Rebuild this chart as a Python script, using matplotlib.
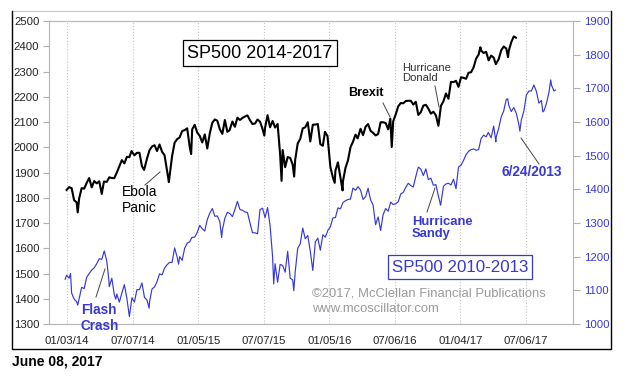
import numpy as np
import pandas as pd
import matplotlib
matplotlib.use("Agg")
import matplotlib.pyplot as plt
import matplotlib.dates as mdates
from matplotlib.lines import Line2D

plt.rcParams['font.family'] = ['Liberation Sans', 'DejaVu Sans']

# SP500 2014-2017 (left axis), weekly closes plus a few daily extremes
black_2014 = [("01-03", 1831), ("01-10", 1842), ("01-17", 1838), ("01-24", 1790), ("01-31", 1782),
              ("02-03", 1742), ("02-07", 1797), ("02-14", 1838), ("02-21", 1836), ("02-28", 1859),
              ("03-07", 1878), ("03-14", 1841), ("03-21", 1866), ("03-28", 1857), ("04-04", 1865),
              ("04-11", 1815), ("04-17", 1864), ("04-25", 1863), ("05-02", 1881), ("05-09", 1878),
              ("05-16", 1878), ("05-23", 1900), ("05-30", 1924), ("06-06", 1949), ("06-13", 1936),
              ("06-20", 1962), ("06-27", 1961), ("07-03", 1985), ("07-11", 1968), ("07-18", 1978),
              ("07-25", 1978), ("08-01", 1925), ("08-07", 1910), ("08-15", 1955), ("08-22", 1988),
              ("08-29", 2003), ("09-05", 2008), ("09-12", 1985), ("09-19", 2011), ("09-26", 1982),
              ("10-03", 1968), ("10-10", 1906), ("10-15", 1862), ("10-17", 1886), ("10-24", 1965),
              ("10-31", 2018), ("11-07", 2032), ("11-14", 2039), ("11-21", 2064), ("11-28", 2068),
              ("12-05", 2075), ("12-12", 2002), ("12-16", 1973), ("12-19", 2071), ("12-26", 2089)]
black_2015 = [("01-02", 2058), ("01-09", 2045), ("01-16", 2019), ("01-23", 2051), ("01-30", 1995),
              ("02-06", 2055), ("02-13", 2097), ("02-20", 2110), ("02-27", 2105), ("03-06", 2071),
              ("03-13", 2053), ("03-20", 2108), ("03-27", 2061), ("04-02", 2067), ("04-10", 2102),
              ("04-17", 2081), ("04-24", 2117), ("05-01", 2108), ("05-08", 2116), ("05-15", 2122),
              ("05-22", 2126), ("05-29", 2107), ("06-05", 2092), ("06-12", 2094), ("06-19", 2110),
              ("06-26", 2101), ("07-02", 2077), ("07-08", 2046), ("07-10", 2077), ("07-17", 2127),
              ("07-24", 2079), ("07-31", 2104), ("08-07", 2078), ("08-14", 2092), ("08-21", 1971),
              ("08-25", 1867), ("08-28", 1989), ("09-04", 1921), ("09-11", 1961), ("09-18", 1958),
              ("09-25", 1931), ("09-29", 1884), ("10-02", 1951), ("10-09", 2015), ("10-16", 2033),
              ("10-23", 2075), ("10-30", 2079), ("11-06", 2099), ("11-13", 2023), ("11-20", 2089),
              ("11-27", 2090), ("12-04", 2092), ("12-11", 2012), ("12-18", 2006), ("12-24", 2061),
              ("12-31", 2044)]
black_2016 = [("01-08", 1922), ("01-15", 1880), ("01-20", 1859), ("01-22", 1907), ("01-29", 1940),
              ("02-05", 1880), ("02-11", 1829), ("02-12", 1865), ("02-19", 1918), ("02-26", 1948),
              ("03-04", 2000), ("03-11", 2022), ("03-18", 2050), ("03-24", 2035), ("04-01", 2073),
              ("04-08", 2048), ("04-15", 2081), ("04-22", 2092), ("04-29", 2065), ("05-06", 2057),
              ("05-13", 2047), ("05-20", 2052), ("05-27", 2099), ("06-03", 2099), ("06-10", 2096),
              ("06-17", 2071), ("06-23", 2113), ("06-27", 2001), ("07-01", 2103), ("07-08", 2130),
              ("07-15", 2162), ("07-22", 2175), ("07-29", 2174), ("08-05", 2183), ("08-12", 2184),
              ("08-19", 2184), ("08-26", 2169), ("09-02", 2180), ("09-09", 2128), ("09-16", 2139),
              ("09-23", 2165), ("09-30", 2168), ("10-07", 2153), ("10-14", 2133), ("10-21", 2141),
              ("10-28", 2126), ("11-04", 2085), ("11-11", 2164), ("11-18", 2182), ("11-25", 2213),
              ("12-02", 2192), ("12-09", 2259), ("12-16", 2258), ("12-23", 2263), ("12-30", 2239)]
black_2017 = [("01-06", 2277), ("01-13", 2275), ("01-20", 2271), ("01-27", 2295), ("02-03", 2297),
              ("02-10", 2316), ("02-17", 2351), ("02-24", 2367), ("03-01", 2396), ("03-03", 2383),
              ("03-10", 2373), ("03-17", 2378), ("03-24", 2344), ("03-31", 2363), ("04-07", 2355),
              ("04-13", 2329), ("04-21", 2349), ("04-28", 2384), ("05-05", 2399), ("05-12", 2391),
              ("05-17", 2357), ("05-19", 2382), ("05-26", 2416), ("06-02", 2439), ("06-08", 2434)]

# SP500 2010-2013 (right axis), shifted forward 208 weeks onto the 2014-2017 axis
blue_2010 = [("01-04", 1133), ("01-08", 1145), ("01-15", 1136), ("01-19", 1150), ("01-22", 1092),
             ("01-29", 1074), ("02-05", 1066), ("02-08", 1056), ("02-12", 1075), ("02-19", 1109),
             ("02-26", 1105), ("03-05", 1139), ("03-12", 1150), ("03-19", 1160), ("03-26", 1167),
             ("04-02", 1179), ("04-09", 1194), ("04-16", 1192), ("04-23", 1217), ("04-30", 1187),
             ("05-06", 1128), ("05-07", 1111), ("05-14", 1136), ("05-21", 1087), ("05-25", 1074),
             ("05-28", 1089), ("06-04", 1065), ("06-11", 1092), ("06-18", 1117), ("06-25", 1076),
             ("07-02", 1022), ("07-09", 1078), ("07-16", 1065), ("07-23", 1102), ("07-30", 1102),
             ("08-06", 1122), ("08-13", 1079), ("08-20", 1071), ("08-26", 1047), ("08-27", 1065),
             ("09-03", 1104), ("09-10", 1110), ("09-17", 1126), ("09-24", 1149), ("10-01", 1146),
             ("10-08", 1166), ("10-15", 1176), ("10-22", 1183), ("10-29", 1183), ("11-05", 1226),
             ("11-12", 1199), ("11-16", 1178), ("11-19", 1200), ("11-26", 1189), ("12-03", 1225),
             ("12-10", 1240), ("12-17", 1244), ("12-23", 1257), ("12-31", 1258)]
blue_2011 = [("01-07", 1272), ("01-14", 1293), ("01-21", 1283), ("01-28", 1276), ("02-04", 1310),
             ("02-11", 1329), ("02-18", 1343), ("02-25", 1320), ("03-04", 1321), ("03-11", 1304),
             ("03-16", 1257), ("03-18", 1279), ("03-25", 1314), ("04-01", 1332), ("04-08", 1328),
             ("04-15", 1319), ("04-21", 1337), ("04-29", 1364), ("05-06", 1340), ("05-13", 1338),
             ("05-20", 1333), ("05-27", 1331), ("06-03", 1300), ("06-10", 1271), ("06-17", 1271),
             ("06-24", 1268), ("07-01", 1340), ("07-08", 1344), ("07-15", 1316), ("07-22", 1346),
             ("07-29", 1292), ("08-05", 1199), ("08-08", 1119), ("08-12", 1179), ("08-19", 1124),
             ("08-26", 1177), ("09-02", 1174), ("09-09", 1154), ("09-16", 1216), ("09-23", 1136),
             ("09-30", 1131), ("10-03", 1099), ("10-07", 1155), ("10-14", 1225), ("10-21", 1238),
             ("10-28", 1285), ("11-04", 1253), ("11-11", 1263), ("11-18", 1216), ("11-25", 1159),
             ("12-02", 1244), ("12-09", 1255), ("12-16", 1219), ("12-23", 1265), ("12-30", 1258)]
blue_2012 = [("01-06", 1278), ("01-13", 1289), ("01-20", 1315), ("01-27", 1316), ("02-03", 1345),
             ("02-10", 1342), ("02-17", 1361), ("02-24", 1366), ("03-02", 1370), ("03-09", 1371),
             ("03-16", 1404), ("03-23", 1397), ("03-30", 1408), ("04-06", 1398), ("04-13", 1370),
             ("04-20", 1378), ("04-27", 1403), ("05-04", 1369), ("05-11", 1353), ("05-18", 1295),
             ("05-25", 1318), ("06-01", 1278), ("06-08", 1325), ("06-15", 1343), ("06-22", 1335),
             ("06-29", 1362), ("07-06", 1355), ("07-13", 1357), ("07-20", 1363), ("07-27", 1386),
             ("08-03", 1391), ("08-10", 1406), ("08-17", 1418), ("08-24", 1411), ("08-31", 1407),
             ("09-07", 1438), ("09-14", 1466), ("09-21", 1460), ("09-28", 1441), ("10-05", 1461),
             ("10-12", 1429), ("10-19", 1433), ("10-26", 1412), ("11-02", 1414), ("11-09", 1380),
             ("11-15", 1353), ("11-16", 1359), ("11-23", 1409), ("11-30", 1416), ("12-07", 1418),
             ("12-14", 1413), ("12-21", 1430), ("12-28", 1402)]
blue_2013 = [("01-04", 1466), ("01-11", 1472), ("01-18", 1486), ("01-25", 1503), ("02-01", 1513),
             ("02-08", 1518), ("02-15", 1520), ("02-22", 1516), ("03-01", 1518), ("03-08", 1551),
             ("03-15", 1561), ("03-22", 1556), ("03-28", 1569), ("04-05", 1553), ("04-12", 1588),
             ("04-18", 1541), ("04-19", 1555), ("04-26", 1582), ("05-03", 1615), ("05-10", 1633),
             ("05-17", 1667), ("05-21", 1669), ("05-24", 1650), ("05-31", 1631), ("06-07", 1643),
             ("06-14", 1626), ("06-21", 1593), ("06-24", 1573), ("06-28", 1606), ("07-05", 1632),
             ("07-12", 1680), ("07-19", 1692), ("07-26", 1692), ("08-02", 1710), ("08-09", 1691),
             ("08-16", 1656), ("08-23", 1664), ("08-27", 1630), ("08-30", 1633), ("09-06", 1655),
             ("09-13", 1688), ("09-18", 1725), ("09-20", 1710), ("09-27", 1692), ("10-01", 1695)]

tick_dates = ["2014-01-03", "2014-07-07", "2015-01-05", "2015-07-07",
              "2016-01-05", "2016-07-06", "2017-01-04", "2017-07-06"]


def to_series(year_lists, years):
    d, v = [], []
    for yr, lst in zip(years, year_lists):
        for md, val in lst:
            d.append(pd.Timestamp(f"{yr}-{md}"))
            v.append(val)
    return pd.DatetimeIndex(d), np.array(v)


b_dates, b_vals = to_series([black_2014, black_2015, black_2016, black_2017], [2014, 2015, 2016, 2017])
u_dates, u_vals = to_series([blue_2010, blue_2011, blue_2012, blue_2013], [2010, 2011, 2012, 2013])
u_dates = u_dates + pd.Timedelta(weeks=208)

W, H = 630, 377
BLUE = "#3838d4"


def fx(x):
    return x / W


def fy(y):
    return 1 - y / H


fig = plt.figure(figsize=(6.3, 3.77), dpi=100)
ax = fig.add_axes([fx(49), fy(324), fx(573) - fx(49), fy(21) - fy(324)])
ax2 = ax.twinx()

ax.plot(b_dates, b_vals, color="black", lw=1.5, zorder=3)
ax2.plot(u_dates, u_vals, color=BLUE, lw=0.85)

ax.set_xlim(pd.Timestamp("2013-11-15"), pd.Timestamp("2017-11-14"))
ax.set_ylim(1300, 2500)
ax2.set_ylim(1000, 1900)
ax.set_yticks(np.arange(1300, 2501, 100))
ax2.set_yticks(np.arange(1000, 1901, 100))
ax.set_xticks([pd.Timestamp(t) for t in tick_dates])
ax.xaxis.set_major_formatter(mdates.DateFormatter("%m/%d/%y"))
ax.grid(axis="x", ls=":", color="#c4c4c4", lw=0.8)

for a in (ax, ax2):
    for s in a.spines.values():
        s.set_color("#b8b8b8")
        s.set_linewidth(0.8)
ax.tick_params(axis="y", colors="#b0b0b0", labelcolor="#222222", labelsize=8.2, length=4, width=0.8, pad=3)
ax.tick_params(axis="x", length=0, labelcolor="#222222", labelsize=8.2, pad=9)
ax2.tick_params(axis="y", colors="#b0b0b0", labelcolor=BLUE, labelsize=8.2, length=5, width=0.8, pad=3)

# outer frame
fig.add_artist(Line2D([fx(12), fx(611)], [fy(11), fy(11)], color="#c8c8c8", lw=0.8))
fig.add_artist(Line2D([fx(12), fx(12), fx(611), fx(611)], [fy(11), fy(349), fy(349), fy(11)],
                      color="black", lw=1.0))

fig.text(fx(12), fy(361), "June 08, 2017", fontsize=10, fontweight="bold", va="center", ha="left")

# title boxes
fig.text(fx(260), fy(53), "SP500 2014-2017", fontsize=13, ha="center", va="center",
         bbox=dict(boxstyle="square,pad=0.25", fc="white", ec="black", lw=0.9))
fig.text(fx(460), fy(267), "SP500 2010-2013", fontsize=12.2, ha="center", va="center", color=BLUE,
         bbox=dict(boxstyle="square,pad=0.25", fc="white", ec=BLUE, lw=0.9))

fig.text(fx(312), fy(293), "\u00a92017, McClellan Financial Publications", fontsize=9.4,
         color="#9a9a9a", va="center", ha="left")
fig.text(fx(312), fy(309), "www.mcoscillator.com", fontsize=9.4, color="#9a9a9a", va="center", ha="left")

# annotations
fig.text(fx(122), fy(200), "Ebola\nPanic", fontsize=10, va="center", ha="left", linespacing=1.1)
fig.text(fx(81), fy(318), "Flash\nCrash", fontsize=9.8, fontweight="bold", color=BLUE,
         va="center", ha="left", linespacing=1.1)
fig.text(fx(348), fy(93), "Brexit", fontsize=9, fontweight="bold", va="center", ha="left")
fig.text(fx(402), fy(73), "Hurricane\nDonald", fontsize=8.1, color="#333333", va="center", ha="left",
         linespacing=1.0)
fig.text(fx(502), fy(172), "6/24/2013", fontsize=9.8, fontweight="bold", color=BLUE, va="center", ha="left")
fig.text(fx(412), fy(228), "Hurricane\nSandy", fontsize=9.4, fontweight="bold", color=BLUE,
         va="center", ha="left", linespacing=1.1)

leaders = [((145, 185), (160, 172)), ((96, 297), (105, 269)), ((383, 103), (390, 117)),
           ((435, 86), (439, 107)), ((521, 138), (539, 164)), ((427, 212), (435, 188))]
for (x1, y1), (x2, y2) in leaders:
    fig.add_artist(Line2D([fx(x1), fx(x2)], [fy(y1), fy(y2)], color="#444444", lw=0.7))

fig.savefig("out.png", dpi=100)
